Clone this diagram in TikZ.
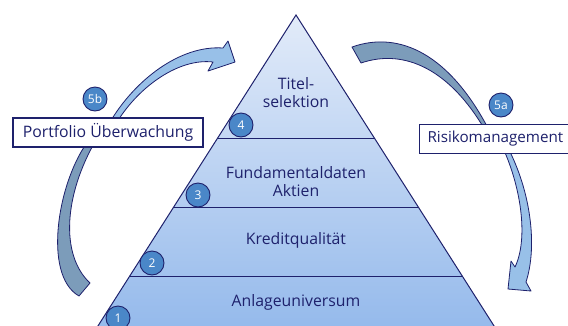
\documentclass[tikz,border=0pt]{standalone}
\usepackage{fontspec}
\setmainfont{Open Sans}
\usepackage{tikz}
\usetikzlibrary{calc}

\definecolor{navy}{RGB}{30,33,108}
\definecolor{pyrtop}{RGB}{226,235,249}
\definecolor{pyrbot}{RGB}{146,184,235}
\definecolor{frontblue}{RGB}{152,192,232}
\definecolor{backblue}{RGB}{124,156,186}
\definecolor{numblue}{RGB}{74,135,200}

\tikzset{
    level/.style = {text = navy, align = center, font = \fontsize{15.8}{18}\selectfont},
    num/.style = {circle, draw = navy, fill = numblue, text = white, line width = 0.9pt,
                  minimum size = 24pt, inner sep = 0pt, font = \fontsize{12}{12}\selectfont},
    labelbox/.style = {draw = navy, fill = white, text = navy, line width = 1.1pt,
                       minimum height = 29pt, inner sep = 0pt, font = \fontsize{15.8}{18}\selectfont},
    band/.style = {draw = navy, line width = 0.8pt, line join = round},
}

\begin{document}
\begin{tikzpicture}[x = 1pt, y = -1pt]
    \useasboundingbox (0,0) rectangle (568,325);
    \clip (0,0) rectangle (568,325);

    % pyramid
    \coordinate (top) at (296,15);
    \coordinate (bl) at (89,340);
    \coordinate (br) at (503,340);
    \shade[top color = pyrtop, bottom color = pyrbot] (top) -- (bl) -- (br) -- cycle;
    \draw[navy, line width = 1pt] (bl) -- (top) -- (br);
    \foreach \t in {0.3785, 0.5908, 0.8031}
        \draw[navy, line width = 1pt] ($(top)!\t!(bl)$) -- ($(top)!\t!(br)$);

    \node[level] (sel) at (296,93) {Titel-\\selektion};
    \node[level] (fund) at (296,182) {Fundamentaldaten\\Aktien};
    \node[level] (kred) at (296,240) {Kreditqualität};
    \node[level] (univ) at (296,302) {Anlageuniversum};

    % left arrow (5b)
    \filldraw[band, fill = backblue] (89,140) .. controls (58,180) and (42,275) .. (79,296)
        -- (90,283) .. controls (60,255) and (64,195) .. (96,140) -- cycle;
    \filldraw[band, fill = frontblue] (110,122) .. controls (135,80) and (180,45) .. (223,48)
        -- (228,41) -- (235,62) -- (208,71) -- (213,62)
        .. controls (180,58) and (140,85) .. (117,122) -- cycle;

    % right arrow (5a)
    \filldraw[band, fill = backblue] (352,47) .. controls (400,30) and (450,55) .. (489,130)
        -- (485,130) .. controls (450,70) and (405,48) .. (361,63) -- cycle;
    \filldraw[band, fill = frontblue] (508,148) .. controls (530,190) and (538,245) .. (526,282)
        -- (531,291) -- (508,289) -- (511,261) -- (515,267)
        .. controls (528,240) and (522,190) .. (503,148) -- cycle;

    \node[labelbox, minimum width = 190pt] (pf) at (108,132.5) {Portfolio Überwachung};
    \node[labelbox, inner xsep = 8pt, anchor = west, text width = 155pt, align = left,
          font = \fontsize{15.2}{18}\selectfont] (risk) at (419,139) {Risikomanagement};

    \node[num] (n4) at (241,125) {4};
    \node[num] (n3) at (198,195) {3};
    \node[num] (n2) at (152,263) {2};
    \node[num] (n1) at (118,318) {1};
    \node[num] (n5b) at (95,99) {5b};
    \node[num] (n5a) at (501,105) {5a};

\end{tikzpicture}
\end{document}
